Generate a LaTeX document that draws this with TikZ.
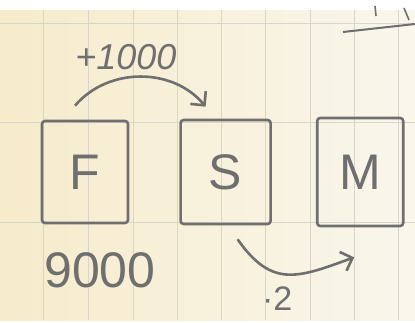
\documentclass[tikz,border=0pt]{standalone}
\usepackage{fontspec}
\setmainfont{Liberation Sans}
\usetikzlibrary{arrows.meta,positioning}
\definecolor{paperleft}{HTML}{F6EBCB}
\definecolor{paperright}{HTML}{F9F6EC}
\definecolor{gridgray}{HTML}{D9D5CA}
\definecolor{pencil}{HTML}{6F6F6F}

\begin{document}
\begin{tikzpicture}[x=1pt,y=-1pt,>={Straight Barb[length=10pt,width=20pt]},line width=2.6pt,
  letterbox/.style={draw=pencil,rounded corners=3pt,minimum width=86pt,minimum height=102pt,
    inner sep=0pt,text=pencil,font=\fontsize{50}{50}\selectfont}]
  % paper with its grid
  \useasboundingbox (0,0) rectangle (415,322);
  \fill[white] (0,0) rectangle (415,322);
  \shade[left color=paperleft,right color=paperright] (0,10) rectangle (415,320);
  \foreach \gx in {43,88,133,177,221,265,310,354,398}
    \draw[gridgray,line width=1pt] (\gx,10) -- (\gx,320);
  \foreach \gy in {23,122,222}
    \draw[gridgray,line width=1pt] (0,\gy) -- (415,\gy);

  \node[letterbox] (F) at (85,172) {F};
  \node[letterbox,minimum width=90pt,minimum height=104pt,right=50pt of F] (S) {S};
  \node[letterbox,minimum height=108pt,right=44pt of S] (M) {M};

  \draw[->,pencil] ([xshift=-10pt,yshift=14pt]F.north) to[bend left=50]
    node[pos=0.4,above=3pt,text=pencil,font=\fontsize{36}{36}\selectfont\itshape]{+1000}
    ([xshift=-20pt,yshift=12pt]S.north);
  \draw[->,pencil] ([xshift=12pt,yshift=-14pt]S.south) to[out=-55,in=200,looseness=1.3]
    node[pos=0.4,below=9pt,text=pencil,font=\fontsize{34}{34}\selectfont]{·2}
    ([xshift=-6pt,yshift=-30pt]M.south);

  \node[below=27pt of F,xshift=15pt,inner sep=0pt,text=pencil,
    font=\fontsize{50}{50}\selectfont] (total) {9000};

  % cut-off strokes at the top right
  \draw[pencil,line width=2pt] (343,32) -- (415,24);
  \draw[pencil,line width=1.6pt] (375,6) -- (376,16);
  \draw[pencil,line width=1.6pt] (404,8) -- (409,20);
\end{tikzpicture}
\end{document}
